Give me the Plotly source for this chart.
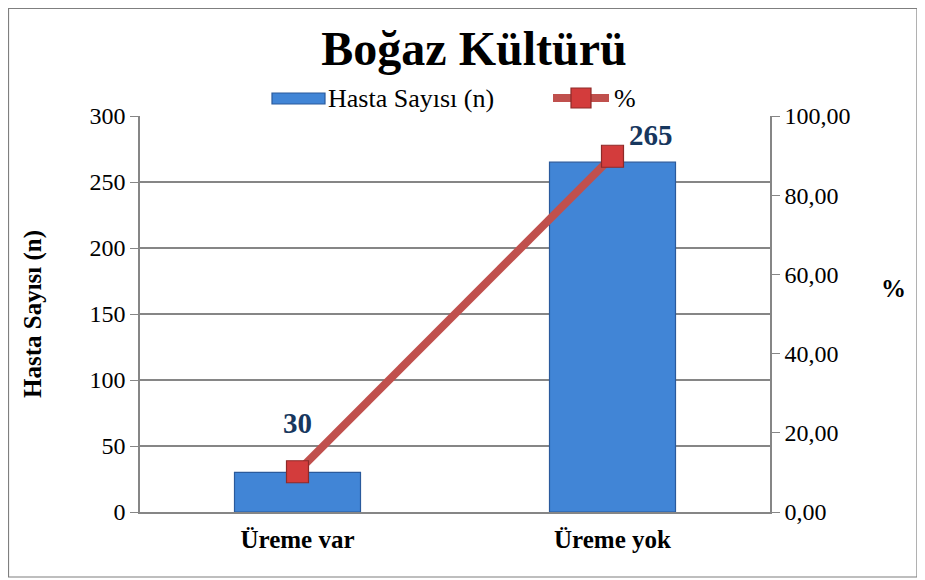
import plotly.graph_objects as go

categories = ["Üreme var", "Üreme yok"]
hasta_sayisi = [30, 265]
yuzde = [10.17, 89.83]
left_ticks = [0, 50, 100, 150, 200, 250, 300]
right_ticks = [0, 20, 40, 60, 80, 100]
right_tick_text = ["0,00", "20,00", "40,00", "60,00", "80,00", "100,00"]

FONT = "Liberation Serif, Times New Roman, serif"
# page body has an 8px margin, so the figure is drawn 8px in from the window edge
W, H = 917, 572
ml, mt = 132, 108
pw, ph = 630, 396
mr, mb = W - ml - pw, H - mt - ph

def px(x):
    return (x - ml) / pw

def py(y):
    return (mt + ph - y) / ph

BAR_COLOR = "#4185d6"
LINE_COLOR = "#c0504d"
MARK_COLOR = "#d33c3c"
GRID = "#868686"

fig = go.Figure()
fig.add_trace(go.Bar(
    x=categories, y=hasta_sayisi, name="Hasta Sayısı (n)", width=0.4,
    marker=dict(color=BAR_COLOR, line=dict(color="#2a5a9c", width=1.2)),
    yaxis="y",
))
fig.add_trace(go.Scatter(
    x=categories, y=yuzde, name="%", mode="lines+markers",
    line=dict(color=LINE_COLOR, width=8),
    marker=dict(symbol="square", size=22, color=MARK_COLOR, line=dict(color="#8e2a28", width=1.2)),
    yaxis="y2",
))

label_offsets = [(0, 49), (38, 27)]
for c, v, (dx, dy) in zip(categories, hasta_sayisi, label_offsets):
    fig.add_annotation(x=c, y=v, xref="x", yref="y", text=f"<b>{v}</b>", showarrow=False,
                       xshift=dx, yshift=dy, font=dict(family=FONT, size=29, color="#17375e"))

# axis titles
fig.add_annotation(xref="paper", yref="paper", x=px(25), y=py(306), xanchor="center", yanchor="middle",
                   text="<b>Hasta Sayısı (n)</b>", textangle=-90, showarrow=False,
                   font=dict(family=FONT, size=25, color="black"))
fig.add_annotation(xref="paper", yref="paper", x=px(885), y=py(280), xanchor="center", yanchor="middle",
                   text="<b>%</b>", showarrow=False,
                   font=dict(family=FONT, size=25, color="black"))

# custom legend
fig.add_shape(type="rect", xref="paper", yref="paper", x0=px(264), x1=px(317), y0=py(96), y1=py(85),
              fillcolor=BAR_COLOR, line=dict(color="#2a5a9c", width=1.2))
fig.add_annotation(xref="paper", yref="paper", x=px(318), y=py(90), xanchor="left", yanchor="middle",
                   text="Hasta Sayısı (n)", showarrow=False, font=dict(family=FONT, size=26, color="black"))
fig.add_shape(type="line", xref="paper", yref="paper", x0=px(545), x1=px(601), y0=py(90), y1=py(90),
              line=dict(color=LINE_COLOR, width=8))
fig.add_shape(type="rect", xref="paper", yref="paper", x0=px(563), x1=px(583), y0=py(100), y1=py(80),
              fillcolor=MARK_COLOR, line=dict(color="#8e2a28", width=1.2))
fig.add_annotation(xref="paper", yref="paper", x=px(604), y=py(90), xanchor="left", yanchor="middle",
                   text="%", showarrow=False, font=dict(family=FONT, size=26, color="black"))

# outer border
fig.add_shape(type="rect", xref="paper", yref="paper",
              x0=px(0.5), x1=px(909), y0=py(569), y1=py(0.5),
              line=dict(color="#7f7f7f", width=1.2), fillcolor="rgba(0,0,0,0)", layer="below")

fig.update_layout(
    width=W, height=H,
    margin=dict(l=ml, r=mr, t=mt, b=mb),
    paper_bgcolor="white", plot_bgcolor="white",
    title=dict(text="<b>Boğaz Kültürü</b>", x=466 / W, xanchor="center", y=1 - 40 / H, yanchor="middle",
               font=dict(family=FONT, size=48, color="black")),
    font=dict(family=FONT, size=24, color="black"),
    showlegend=False,
    xaxis=dict(showline=True, linecolor=GRID, linewidth=1.5, tickfont=dict(family=FONT, size=25),
               ticks="", ticklabelstandoff=4, tickprefix="<b>", ticksuffix="</b>"),
    yaxis=dict(range=[0, 300], tickvals=left_ticks, showgrid=True, gridcolor=GRID, gridwidth=1.5,
               showline=True, linecolor=GRID, linewidth=1.5, ticks="outside", ticklen=8,
               tickcolor=GRID, tickfont=dict(family=FONT, size=24), zeroline=False),
    yaxis2=dict(range=[0, 100], tickvals=right_ticks, ticktext=right_tick_text, overlaying="y", side="right",
                showgrid=False, showline=True, linecolor=GRID, linewidth=1.5, ticks="outside",
                ticklen=8, tickcolor=GRID, tickfont=dict(family=FONT, size=24), zeroline=False),
)

fig.write_html("out.html")
